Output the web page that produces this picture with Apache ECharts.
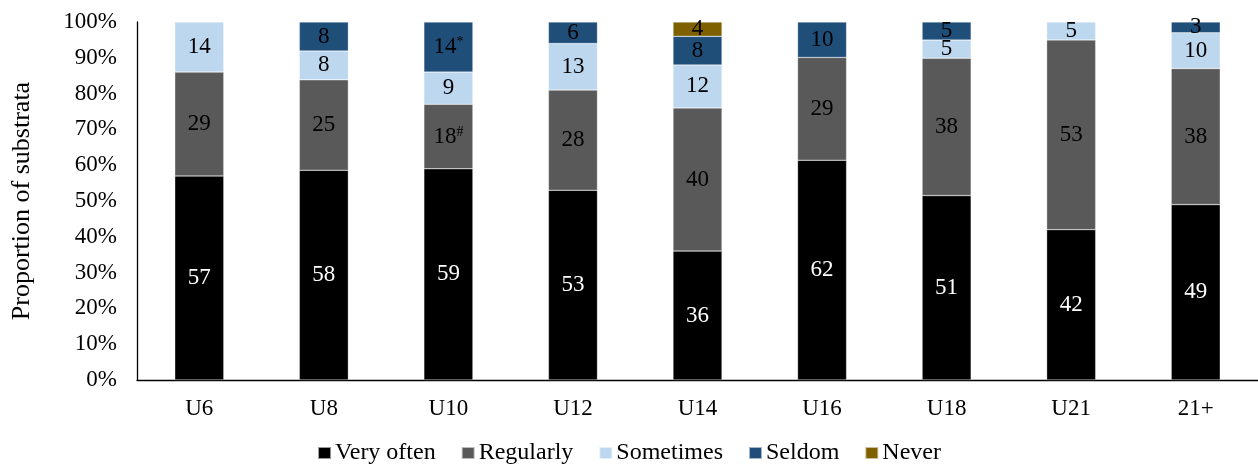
<!DOCTYPE html>
<html><head><meta charset="utf-8">
<script src="https://cdn.jsdelivr.net/npm/echarts@6/dist/echarts.min.js"></script>
<style>html,body{margin:0;padding:0;background:#fff}#c{width:1258px;height:466px}</style>
</head><body><div id="c"></div>
<script>
const categories = ['U6','U8','U10','U12','U14','U16','U18','U21','21+'];
const seriesNames = ['Very often','Regularly','Sometimes','Seldom','Never'];
const veryOften = [57,58,59,53,36,62,51,42,49];
const regularly = [29,25,18,28,40,29,38,53,38];
const sometimes = [14,8,9,13,12,0,5,5,10];
const seldom    = [0,8,14,6,8,10,5,0,3];
const never     = [0,0,0,0,4,0,0,0,0];
const yTicks = ['0%','10%','20%','30%','40%','50%','60%','70%','80%','90%','100%'];
// superscript markers on specific labels
const marks = { 'Regularly|U10': '#', 'Seldom|U10': '*' };
const colors = ['#000000','#595959','#BDD7EE','#1F4E79','#7F6000'];
const raw = [veryOften, regularly, sometimes, seldom, never];
const totals = categories.map((c,i)=>raw.reduce((s,a)=>s+a[i],0));
const font = 'Liberation Serif';

const series = raw.map((arr,k)=>({
  name: seriesNames[k],
  type: 'bar',
  stack: 'all',
  barWidth: 49,
  itemStyle: { color: colors[k], borderColor: 'rgba(255,255,255,0.6)', borderWidth: 0.5 },
  data: arr.map((v,i)=>({ value: v ? v/totals[i]*100 : null, raw: v, cat: categories[i] })),
  label: {
    show: true,
    position: 'inside',
    fontFamily: font,
    fontSize: 23,
    color: k===0 ? '#ffffff' : '#000000',
    formatter: p => {
      if (!p.data.raw) return '';
      const m = marks[seriesNames[k]+'|'+p.data.cat];
      return m ? p.data.raw + '{sup|' + m + '}' : String(p.data.raw);
    },
    rich: { sup: { fontFamily: font, fontSize: 14, verticalAlign: 'top', padding:[0,0,9,0], color: '#000' } }
  }
}));

const chart = echarts.init(document.getElementById('c'));
chart.setOption({
  animation: false,
  color: colors,
  grid: { left: 137, right: -2, top: 22, bottom: 86 },
  legend: {
    top: 436, left: 'center',
    itemWidth: 13, itemHeight: 12, itemGap: 25,
    icon: 'rect',
    textStyle: { fontFamily: font, fontSize: 24, color: '#000', padding: [0,0,0,-1] },
    data: seriesNames
  },
  xAxis: {
    type: 'category',
    data: categories,
    axisLine: { lineStyle: { color: '#000', width: 1.3 } },
    axisTick: { show: false },
    axisLabel: { fontFamily: font, fontSize: 23, color: '#000', margin: 17 }
  },
  yAxis: {
    type: 'value',
    min: 0, max: 100, interval: 10,
    name: 'Proportion of substrata',
    nameLocation: 'middle',
    nameGap: 102,
    nameTextStyle: { fontFamily: font, fontSize: 26, color: '#000' },
    axisLine: { show: true, lineStyle: { color: '#000', width: 1.3 } },
    axisTick: { show: false },
    splitLine: { show: false },
    axisLabel: { fontFamily: font, fontSize: 23, color: '#000', margin: 20,
      formatter: v => yTicks[Math.round(v/10)] }
  },
  series
});
</script></body></html>
